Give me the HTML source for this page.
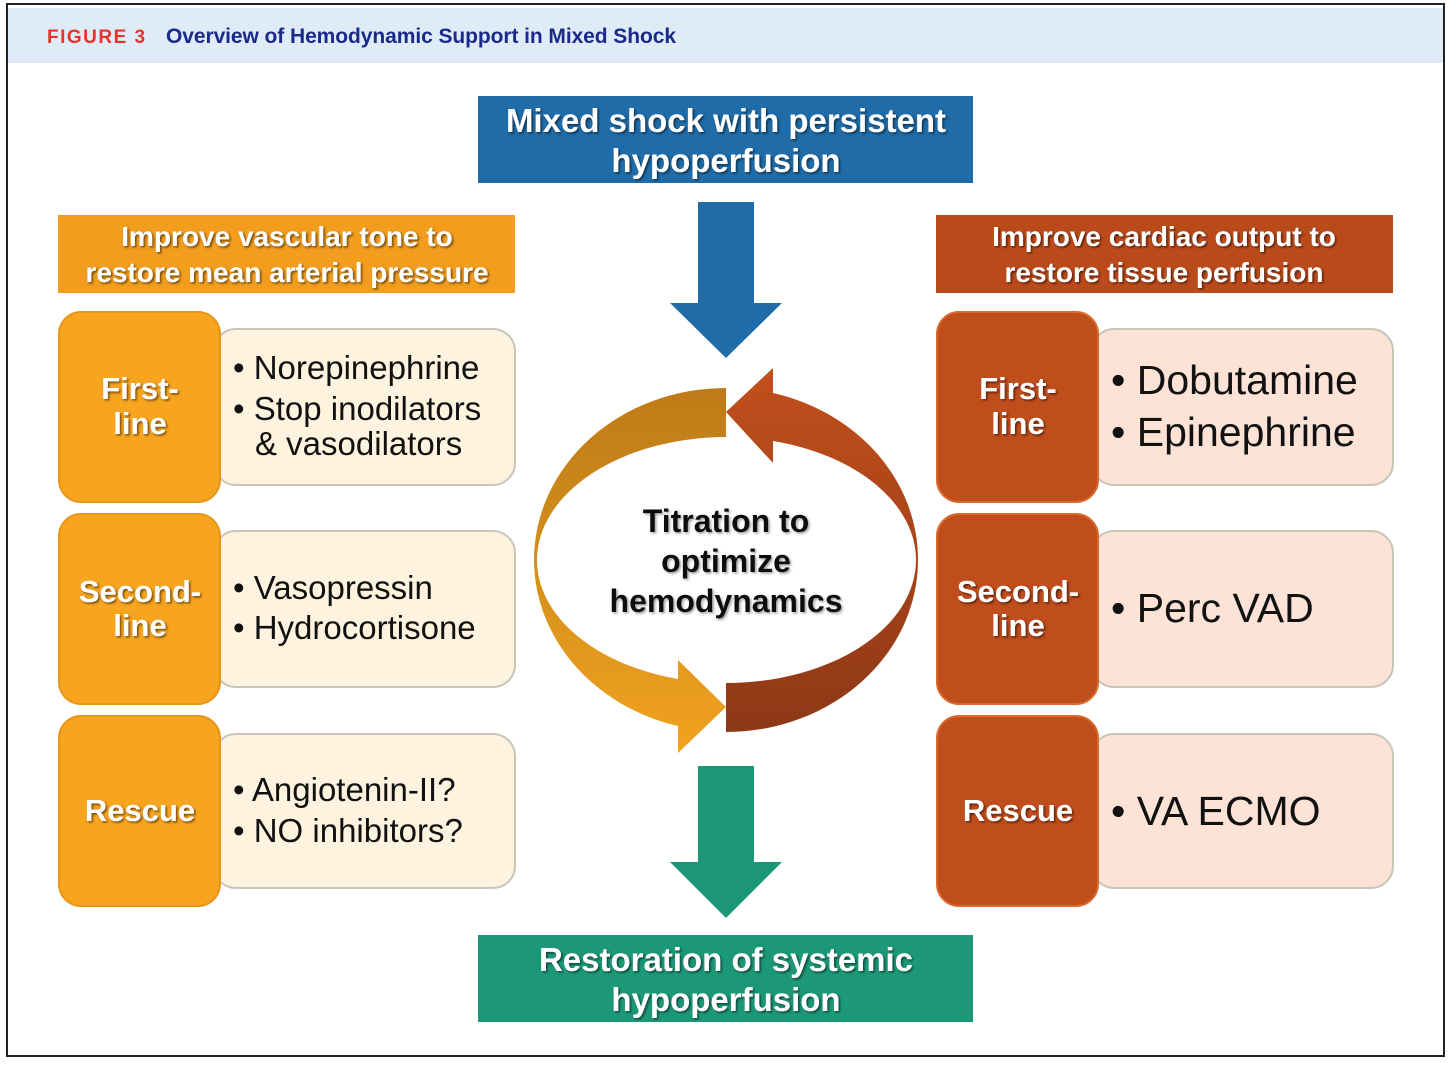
<!DOCTYPE html>
<html><head><meta charset="utf-8"><style>
html,body{margin:0;padding:0;background:#fff}
svg{display:block}
text{font-family:"Liberation Sans",Arial,sans-serif}
.lb{font-weight:bold;font-size:31px;fill:#fff;text-anchor:middle}
.hd{font-weight:bold;font-size:28px;fill:#fff;text-anchor:middle}
.ct{font-size:33px;fill:#111}
.cr{font-size:41px;fill:#111}
.bx{font-weight:bold;font-size:33px;fill:#fff;text-anchor:middle}
</style></head><body>
<svg width="1456" height="1065" viewBox="0 0 1456 1065" xmlns="http://www.w3.org/2000/svg">
<defs>
<filter id="sh" x="-10%" y="-10%" width="120%" height="130%"><feDropShadow dx="1.5" dy="1.5" stdDeviation="1" flood-color="#000" flood-opacity="0.55"/></filter>
<filter id="shl" x="-10%" y="-10%" width="120%" height="130%"><feDropShadow dx="1.5" dy="1.5" stdDeviation="1.2" flood-color="#888" flood-opacity="0.8"/></filter>
<linearGradient id="gl" x1="0" y1="0" x2="0" y2="1"><stop offset="0" stop-color="#bf7a18"/><stop offset="0.5" stop-color="#d4901c"/><stop offset="1" stop-color="#f2a21f"/></linearGradient>
<linearGradient id="gr" x1="0" y1="0" x2="0" y2="1"><stop offset="0" stop-color="#c24f1c"/><stop offset="1" stop-color="#8d3816"/></linearGradient>
</defs>
<rect x="7" y="4" width="1437" height="1052" fill="#fff" stroke="#222" stroke-width="2"/>
<rect x="8" y="8" width="1435" height="55" fill="#dfecf8"/>
<text x="47" y="43" font-weight="bold" font-size="19" fill="#e8332a" letter-spacing="1.5">FIGURE 3</text>
<text x="166" y="43" font-weight="bold" font-size="21" fill="#1a2a8a" textLength="510">Overview of Hemodynamic Support in Mixed Shock</text>

<rect x="478" y="96" width="495" height="87" fill="#1f6ca8"/>
<text class="bx" x="726" y="132" filter="url(#sh)">Mixed shock with persistent</text>
<text class="bx" x="726" y="172" filter="url(#sh)">hypoperfusion</text>
<rect x="478" y="935" width="495" height="87" fill="#1c9878"/>
<text class="bx" x="726" y="971" filter="url(#sh)">Restoration of systemic</text>
<text class="bx" x="726" y="1011" filter="url(#sh)">hypoperfusion</text>

<polygon points="698,202 754,202 754,303 782,303 726,358 670,303 698,303" fill="#1f6ca8"/>
<polygon points="698,766 754,766 754,862 782,862 726,918 670,862 698,862" fill="#1c9878"/>

<path d="M726 388 A192 172 0 0 0 534 560 A192 172 0 0 0 678 726 L678 753 L726 707 L678 660 L678 679 A190 123 0 0 1 537 560 A190 123 0 0 1 726 437 Z" fill="url(#gl)"/>
<path d="M726 732 A192 172 0 0 0 918 560 A192 172 0 0 0 773 393 L773 368 L726 412 L773 463 L773 441 A190 123 0 0 1 916 560 A190 123 0 0 1 726 683 Z" fill="url(#gr)"/>
<g font-weight="bold" font-size="32" fill="#111" text-anchor="middle" filter="url(#shl)">
<text x="726" y="532">Titration to</text>
<text x="726" y="572">optimize</text>
<text x="726" y="612">hemodynamics</text>
</g>

<rect x="58" y="215" width="457" height="78" fill="#f29d1e"/>
<text class="hd" x="287" y="246" filter="url(#sh)">Improve vascular tone to</text>
<text class="hd" x="287" y="282" filter="url(#sh)">restore mean arterial pressure</text>

<rect x="214" y="329" width="301" height="156" rx="22" fill="#fdf3df" stroke="#c9c6b8" stroke-width="2"/>
<rect x="59" y="312" width="161" height="190" rx="22" fill="#f7a41f" stroke="#e8951a" stroke-width="2"/>
<text class="lb" x="140" y="399" filter="url(#sh)">First-</text><text class="lb" x="140" y="434" filter="url(#sh)">line</text>
<text class="ct" x="233" y="379">• Norepinephrine</text>
<text class="ct" x="233" y="420">• Stop inodilators</text>
<text class="ct" x="255" y="455">&amp; vasodilators</text>

<rect x="214" y="531" width="301" height="156" rx="22" fill="#fdf3df" stroke="#c9c6b8" stroke-width="2"/>
<rect x="59" y="514" width="161" height="190" rx="22" fill="#f7a41f" stroke="#e8951a" stroke-width="2"/>
<text class="lb" x="140" y="602" filter="url(#sh)">Second-</text><text class="lb" x="140" y="636" filter="url(#sh)">line</text>
<text class="ct" x="233" y="599">• Vasopressin</text>
<text class="ct" x="233" y="639">• Hydrocortisone</text>

<rect x="214" y="734" width="301" height="154" rx="22" fill="#fdf3df" stroke="#c9c6b8" stroke-width="2"/>
<rect x="59" y="716" width="161" height="190" rx="22" fill="#f7a41f" stroke="#e8951a" stroke-width="2"/>
<text class="lb" x="140" y="821" filter="url(#sh)">Rescue</text>
<text class="ct" x="233" y="801">• Angiotenin-II?</text>
<text class="ct" x="233" y="842">• NO inhibitors?</text>

<rect x="936" y="215" width="457" height="78" fill="#bb4a1a"/>
<text class="hd" x="1164" y="246" filter="url(#sh)">Improve cardiac output to</text>
<text class="hd" x="1164" y="282" filter="url(#sh)">restore tissue perfusion</text>

<rect x="1092" y="329" width="301" height="156" rx="22" fill="#fde3d6" stroke="#c9c6b8" stroke-width="2"/>
<rect x="937" y="312" width="161" height="190" rx="22" fill="#c04d1c" stroke="#d96a2c" stroke-width="2"/>
<text class="lb" x="1018" y="399" filter="url(#sh)">First-</text><text class="lb" x="1018" y="434" filter="url(#sh)">line</text>
<text class="cr" x="1111" y="394">• Dobutamine</text>
<text class="cr" x="1111" y="446">• Epinephrine</text>

<rect x="1092" y="531" width="301" height="156" rx="22" fill="#fde3d6" stroke="#c9c6b8" stroke-width="2"/>
<rect x="937" y="514" width="161" height="190" rx="22" fill="#c04d1c" stroke="#d96a2c" stroke-width="2"/>
<text class="lb" x="1018" y="602" filter="url(#sh)">Second-</text><text class="lb" x="1018" y="636" filter="url(#sh)">line</text>
<text class="cr" x="1111" y="622">• Perc VAD</text>

<rect x="1092" y="734" width="301" height="154" rx="22" fill="#fde3d6" stroke="#c9c6b8" stroke-width="2"/>
<rect x="937" y="716" width="161" height="190" rx="22" fill="#c04d1c" stroke="#d96a2c" stroke-width="2"/>
<text class="lb" x="1018" y="821" filter="url(#sh)">Rescue</text>
<text class="cr" x="1111" y="825">• VA ECMO</text>
</svg>
</body></html>
